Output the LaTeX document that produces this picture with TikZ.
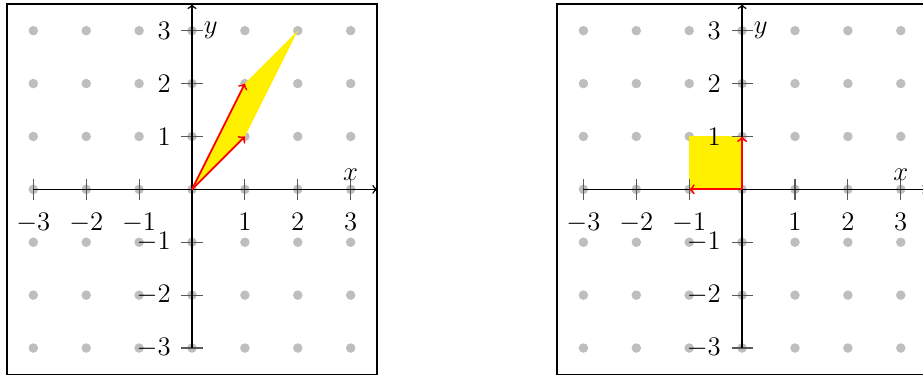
\documentclass[tikz,border=0pt]{standalone}
\usetikzlibrary{positioning}
\definecolor{dotgray}{RGB}{190,190,190}
\definecolor{areayellow}{RGB}{255,240,0}

% grid of lattice points and the frame
\newcommand{\planedots}{%
    \draw[frame] (-3.5,-3.5) rectangle (3.5,3.5);
    \foreach \i in {-3,...,3}
        \foreach \j in {-3,...,3}
            \fill[dotgray] (\i,\j) circle (0.09);
}

% axes, ticks and labels (#1 = prefix for names)
\newcommand{\planeaxes}[1]{%
    \foreach \i in {-3,-2,-1,1,2,3} {
        \draw[tick] (\i,-0.2) -- (\i,0.2);
        \draw[tick] (-0.2,\i) -- (0.2,\i);
        \node[xlab] (#1-xl\i) at (\i,-0.33) {$\i$};
        \node[ylab] (#1-yl\i) at (-0.28,\i) {$\i$};
    }
    \coordinate (#1-xs) at (-3,0);
    \coordinate (#1-xe) at (3.5,0);
    \coordinate (#1-ys) at (0,-3);
    \coordinate (#1-ye) at (0,3.5);
    \draw[axis] (#1-xs) -- (#1-xe);
    \draw[axis] (#1-ys) -- (#1-ye);
    \node[anchor=south] (#1-xname) at (3,0.05) {$x$};
    \node[anchor=west] (#1-yname) at (0.1,3) {$y$};
}

\begin{document}
\begin{tikzpicture}[
    font=\Large,
    frame/.style={draw=black, line width=1pt},
    tick/.style={black!65, semithick},
    axis/.style={->, thick},
    vec/.style={->, red, line width=1pt},
    area/.style={fill=areayellow},
    xlab/.style={anchor=north},
    ylab/.style={anchor=east}
]
    \useasboundingbox (-3.63,-3.53) rectangle (13.82,3.58);

    % left: image of the unit square
    \begin{scope}
        \planedots
        \coordinate (l-o) at (0,0);
        \coordinate (l-u) at (1,1);
        \coordinate (l-w) at (2,3);
        \coordinate (l-v) at (1,2);
        \fill[area] (l-o) -- (l-u) -- (l-w) -- (l-v) -- cycle;
        \planeaxes{l}
        \draw[vec] (l-o) -- (l-u);
        \draw[vec] (l-o) -- (l-v);
    \end{scope}

    % right: second transformation
    \begin{scope}[xshift=10.4cm]
        \planedots
        \coordinate (r-o) at (0,0);
        \coordinate (r-u) at (-1,0);
        \coordinate (r-w) at (-1,1);
        \coordinate (r-v) at (0,1);
        \fill[area] (r-o) -- (r-u) -- (r-w) -- (r-v) -- cycle;
        \planeaxes{r}
        \draw[vec] (r-o) -- (r-u);
        \draw[vec] (r-o) -- (r-v);
    \end{scope}
\end{tikzpicture}
\end{document}
